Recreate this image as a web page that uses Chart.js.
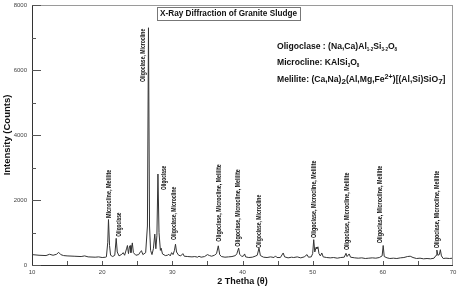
<!DOCTYPE html>
<html>
<head>
<meta charset="utf-8">
<script src="https://cdn.jsdelivr.net/npm/chart.js@4.4.1/dist/chart.umd.min.js"></script>
<style>
  html, body { margin: 0; padding: 0; background: #fff; }
  #wrap { width: 457px; height: 287px; }
</style>
</head>
<body>
<div id="wrap"><canvas id="xrd" width="457" height="287"></canvas></div>
<script>
// 2 theta (deg) and intensity (counts)
const twoTheta = [10, 11, 12, 12.5, 13, 13.5, 13.8, 14.1, 14.5, 15, 16, 17, 17.5, 18, 19, 19.5, 20, 20.5,
  20.6, 20.8, 20.9, 21.05, 21.2, 21.5, 21.8, 22.0, 22.15, 22.4, 22.8, 23.0, 23.2, 23.5, 23.6, 23.75, 23.9, 24.0, 24.1, 24.3, 24.45,
  24.8, 25.2, 25.5, 25.6, 25.8, 26.2, 26.45, 26.6, 26.75, 26.9, 27.1, 27.3, 27.5, 27.65, 27.8, 27.95, 28.1, 28.3, 28.4, 28.6,
  29.0, 29.3, 29.5, 29.7, 29.9, 30.1, 30.3, 30.45, 30.6, 30.9, 31.2, 31.5, 31.7, 32.2, 32.8, 33.2, 33.6, 33.8, 34.1, 34.6,
  35.0, 35.3, 35.6, 36.0, 36.3, 36.55, 36.75, 37.0, 37.5, 38.0, 38.5, 39.0, 39.2, 39.45, 39.6, 39.9, 40.15, 40.3, 40.45,
  40.9, 41.4, 41.8, 42.1, 42.35, 42.55, 43.0, 43.5, 44.0, 44.5, 44.7, 44.9, 45.4, 45.8, 46.0, 46.5, 47.0, 47.3, 47.8,
  48.3, 48.8, 49.2, 49.4, 49.8, 50.0, 50.15, 50.3, 50.5, 50.6, 50.75, 50.9, 51.1, 51.3, 51.5, 52.0, 52.5, 53.0, 53.5,
  54.0, 54.5, 54.75, 54.9, 55.2, 55.4, 56.0, 56.5, 57.0, 57.5, 58.0, 58.5, 59.0, 59.5, 59.9, 60.05, 60.2, 60.6, 61.0,
  61.5, 62.0, 62.5, 63.0, 63.5, 63.9, 64.3, 64.8, 65.3, 65.8, 66.3, 66.8, 67.3, 67.6, 67.7, 67.85, 68.05, 68.2, 68.35,
  68.6, 69.0, 69.5, 70];
const counts = [320, 300, 290, 330, 300, 330, 390, 320, 290, 280, 270, 260, 280, 250, 240, 250, 230, 240,
  250, 700, 1400, 600, 300, 260, 300, 820, 400, 280, 330, 380, 300, 520, 600, 350, 580, 600, 380, 680, 380,
  300, 320, 420, 440, 320, 380, 1200, 7300, 1200, 450, 320, 500, 950, 500, 900, 2800, 1000, 450, 520, 340,
  290, 300, 330, 280, 380, 320, 450, 640, 400, 300, 280, 350, 270, 260, 250, 260, 240, 270, 240, 260,
  320, 290, 270, 300, 350, 590, 320, 260, 240, 250, 260, 290, 350, 520, 330, 260, 280, 340, 250,
  230, 240, 270, 300, 520, 290, 240, 230, 250, 230, 280, 230, 230, 370, 250, 220, 240, 230, 250,
  220, 250, 320, 240, 250, 350, 780, 400, 550, 500, 560, 350, 280, 370, 250, 230, 220, 230, 210,
  230, 240, 360, 260, 340, 240, 220, 210, 220, 200, 210, 220, 210, 230, 280, 600, 260, 220, 200,
  210, 200, 220, 230, 260, 270, 230, 200, 210, 190, 200, 190, 210, 300, 460, 300, 320, 470, 280,
  200, 210, 200, 210];

// phase labels over the peaks
const peakNames = ["Microcline, Melilite", "Oligoclase", "Oligoclase, Microcline", "Oligoclase",
  "Oligoclase, Microcline", "Oligoclase, Microcline, Melilite", "Oligoclase, Microcline, Melilite",
  "Oligoclase, Microcline", "Oligoclase, Microcline, Melilite", "Oligoclase, Microcline, Melilite",
  "Oligoclase, Microcline, Melilite", "Oligoclase, Microcline, Melilite"];
const peakAt = [21.04, 22.43, 25.8, 28.76, 30.19, 36.61, 39.33, 42.43, 50.24, 54.9, 59.67, 67.76];
const peakBase = [1446, 870, 5630, 2308, 770, 717, 563, 523, 830, 460, 668, 514];

const xTicks = [10, 20, 30, 40, 50, 60, 70];
const yTicks = [0, 2000, 4000, 6000, 8000];

const points = twoTheta.map((t, i) => ({ x: t, y: counts[i] }));

// formula lines: [text, kind] pieces, kind -1 small subscript, -2 big subscript, 1 superscript
const formulas = [
  [["Oligoclase : (Na,Ca)Al", 0], ["1-2", -1], ["Si", 0], ["3-2", -1], ["O", 0], ["8", -1]],
  [["Microcline: KAlSi", 0], ["3", -1], ["O", 0], ["8", -1]],
  [["Melilite: (Ca,Na)", 0], ["2", -2], ["(Al,Mg,Fe", 0], ["2+", 1], [")[(Al,Si)SiO", 0], ["7", -2], ["]", 0]]
];

const FONT = '"Liberation Sans", Arial, sans-serif';

const extras = {
  id: 'extras',
  afterDraw(chart) {
    const ctx = chart.ctx, a = chart.chartArea;
    const xs = chart.scales.x, ys = chart.scales.y;
    ctx.save();

    // frame
    ctx.strokeStyle = '#9a9a9a';
    ctx.lineWidth = 1;
    ctx.strokeRect(a.left + 0.5, a.top + 0.5, a.right - a.left - 1, a.bottom - a.top);
    ctx.strokeStyle = '#333';
    ctx.beginPath();
    ctx.moveTo(a.left + 0.5, a.top);
    ctx.lineTo(a.left + 0.5, a.bottom + 0.5);
    ctx.lineTo(a.right, a.bottom + 0.5);
    ctx.stroke();

    // inward ticks
    ctx.strokeStyle = '#555';
    ctx.beginPath();
    for (let v = 0; v <= 8000; v += 1000) {
      const py = Math.round(ys.getPixelForValue(v)) + 0.5;
      const len = v % 2000 === 0 ? 9 : 4;
      ctx.moveTo(a.left, py);
      ctx.lineTo(a.left + len, py);
    }
    for (let v = 15; v < 70; v += 5) {
      const px = Math.round(xs.getPixelForValue(v)) + 0.5;
      ctx.moveTo(px, a.bottom);
      ctx.lineTo(px, a.bottom - 4);
    }
    ctx.stroke();

    // peak labels, rotated
    ctx.fillStyle = '#111';
    ctx.font = 'bold 7px ' + FONT;
    ctx.textBaseline = 'middle';
    ctx.textAlign = 'left';
    peakNames.forEach((name, i) => {
      const px = xs.getPixelForValue(peakAt[i]);
      const py = ys.getPixelForValue(peakBase[i]);
      const w = ctx.measureText(name).width;
      const target = name.length * 2.42;
      ctx.save();
      ctx.translate(px, py);
      ctx.rotate(-Math.PI / 2);
      ctx.scale(target / w, 1);
      ctx.fillText(name, 0, 0);
      ctx.restore();
    });

    // title box
    const title = 'X-Ray Diffraction of Granite Sludge';
    ctx.font = 'bold 8.2px ' + FONT;
    const tw = ctx.measureText(title).width;
    const cx = 228.5, cy = 13.5;
    ctx.fillStyle = '#fff';
    ctx.fillRect(cx - tw / 2 - 3, cy - 6.5, tw + 6, 13);
    ctx.strokeStyle = '#777';
    ctx.strokeRect(Math.round(cx - tw / 2 - 3) + 0.5, Math.round(cy - 6.5) + 0.5, Math.round(tw + 6), 13);
    ctx.fillStyle = '#111';
    ctx.textAlign = 'center';
    ctx.fillText(title, cx, cy + 0.5);

    // formulas
    ctx.textAlign = 'left';
    const rows = [47, 63, 80];
    formulas.forEach((parts, r) => {
      let x = 277;
      parts.forEach(([txt, kind]) => {
        let dy = 0;
        if (kind === 0) ctx.font = 'bold 8.6px ' + FONT;
        else if (kind === -1) { ctx.font = 'bold 4.5px ' + FONT; dy = 2.5; }
        else if (kind === -2) { ctx.font = 'bold 8px ' + FONT; dy = 2; }
        else { ctx.font = 'bold 7.2px ' + FONT; dy = -3; }
        ctx.fillText(txt, x, rows[r] + dy);
        x += ctx.measureText(txt).width;
      });
    });
    ctx.restore();
  }
};

new Chart(document.getElementById('xrd'), {
  type: 'line',
  data: {
    datasets: [{
      data: points,
      borderColor: '#333',
      borderWidth: 1,
      pointRadius: 0,
      tension: 0,
      fill: false
    }]
  },
  options: {
    responsive: false,
    animation: false,
    layout: { padding: { top: 5, right: 4, left: 0, bottom: 0 } },
    plugins: { legend: { display: false }, tooltip: { enabled: false } },
    scales: {
      x: {
        type: 'linear',
        min: 10,
        max: 70,
        afterBuildTicks: s => { s.ticks = xTicks.map(v => ({ value: v })); },
        afterFit: s => { s.height = 22; s.paddingLeft = 0; s.paddingRight = 0; },
        border: { display: false },
        grid: { display: false, drawTicks: false },
        ticks: { padding: 4, font: { size: 6, family: FONT }, color: '#444', maxRotation: 0,
          callback: v => String(v) },
        title: { display: true, text: '2 Thetha (θ)', padding: { top: 0, bottom: 0 },
          font: { size: 9, weight: 'bold', family: FONT }, color: '#111' }
      },
      y: {
        min: 0,
        max: 8000,
        afterBuildTicks: s => { s.ticks = yTicks.map(v => ({ value: v })); },
        afterFit: s => { s.width = 32; s.paddingTop = 0; s.paddingBottom = 0; },
        border: { display: false },
        grid: { display: false, drawTicks: false },
        ticks: { padding: 5, font: { size: 6, family: FONT }, color: '#444',
          callback: v => String(v) },
        title: { display: true, text: 'Intensity (Counts)', padding: { top: 2, bottom: 0 },
          font: { size: 9.5, weight: 'bold', family: FONT }, color: '#111' }
      }
    }
  },
  plugins: [extras]
});
</script>
</body>
</html>
